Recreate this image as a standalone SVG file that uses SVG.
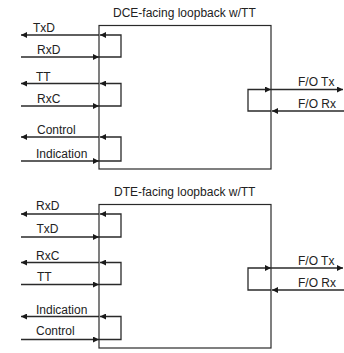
<svg xmlns="http://www.w3.org/2000/svg" width="344" height="353" viewBox="0 0 344 353">
<style>
.box{fill:#fff;stroke:#2a2a2a;stroke-width:1.2}
.ln{fill:none;stroke:#2a2a2a;stroke-width:1.3;marker-end:url(#ah)}
.t{font-family:"Liberation Sans",Arial,sans-serif;font-size:12px;fill:#222}
</style>
<defs>
<marker id="ah" viewBox="0 0 10 10" refX="10" refY="5" markerWidth="7" markerHeight="6" markerUnits="userSpaceOnUse" orient="auto">
<path d="M0,0 L10,5 L0,10 z" fill="#1a1a1a"/>
</marker>
</defs>
<rect width="344" height="353" fill="#fff"/>
<g id="dce-loopback">
<rect class="box" x="99" y="25.5" width="172" height="143.5"/>
<text class="t" x="113" y="17">DCE-facing loopback w/TT</text>
</g>
<g id="dte-loopback">
<rect class="box" x="99" y="204.5" width="172" height="143.5"/>
<text class="t" x="114" y="196">DTE-facing loopback w/TT</text>
</g>
<g id="connectors">
<!-- DCE top -->
<path class="ln" d="M21,57 H99"/>
<path class="ln" d="M99,57 H121 V35 H100"/>
<path class="ln" d="M99,35 H21"/>
<path class="ln" d="M21,106 H99"/>
<path class="ln" d="M99,106 H121 V83.5 H100"/>
<path class="ln" d="M99,83.5 H21"/>
<path class="ln" d="M21,161 H99"/>
<path class="ln" d="M99,161 H121 V137 H100"/>
<path class="ln" d="M99,137 H21"/>
<path class="ln" d="M271,111 H248 V89.5 H271"/>
<path class="ln" d="M271,89.5 H343"/>
<path class="ln" d="M344,111 H272"/>
<!-- DTE bottom -->
<path class="ln" d="M21,237 H99"/>
<path class="ln" d="M99,237 H121 V214 H100"/>
<path class="ln" d="M99,214 H21"/>
<path class="ln" d="M21,284.5 H99"/>
<path class="ln" d="M99,284.5 H121 V262.5 H100"/>
<path class="ln" d="M99,262.5 H21"/>
<path class="ln" d="M21,339.5 H99"/>
<path class="ln" d="M99,339.5 H121 V316.5 H100"/>
<path class="ln" d="M99,316.5 H21"/>
<path class="ln" d="M271,290 H248 V268 H271"/>
<path class="ln" d="M271,268 H343"/>
<path class="ln" d="M344,290 H272"/>
</g>
<g id="labels">
<text class="t" x="33" y="31.5">TxD</text>
<text class="t" x="37" y="54">RxD</text>
<text class="t" x="36" y="80.5">TT</text>
<text class="t" x="37" y="103">RxC</text>
<text class="t" x="37" y="134">Control</text>
<text class="t" x="36" y="157.5">Indication</text>
<text class="t" x="298" y="86">F/O Tx</text>
<text class="t" x="298" y="107.5">F/O Rx</text>
<text class="t" x="36" y="209.5">RxD</text>
<text class="t" x="36.5" y="233">TxD</text>
<text class="t" x="36" y="259.5">RxC</text>
<text class="t" x="37" y="280.5">TT</text>
<text class="t" x="36" y="313.5">Indication</text>
<text class="t" x="36" y="335">Control</text>
<text class="t" x="298" y="264.5">F/O Tx</text>
<text class="t" x="298" y="286.5">F/O Rx</text>
</g>
</svg>
